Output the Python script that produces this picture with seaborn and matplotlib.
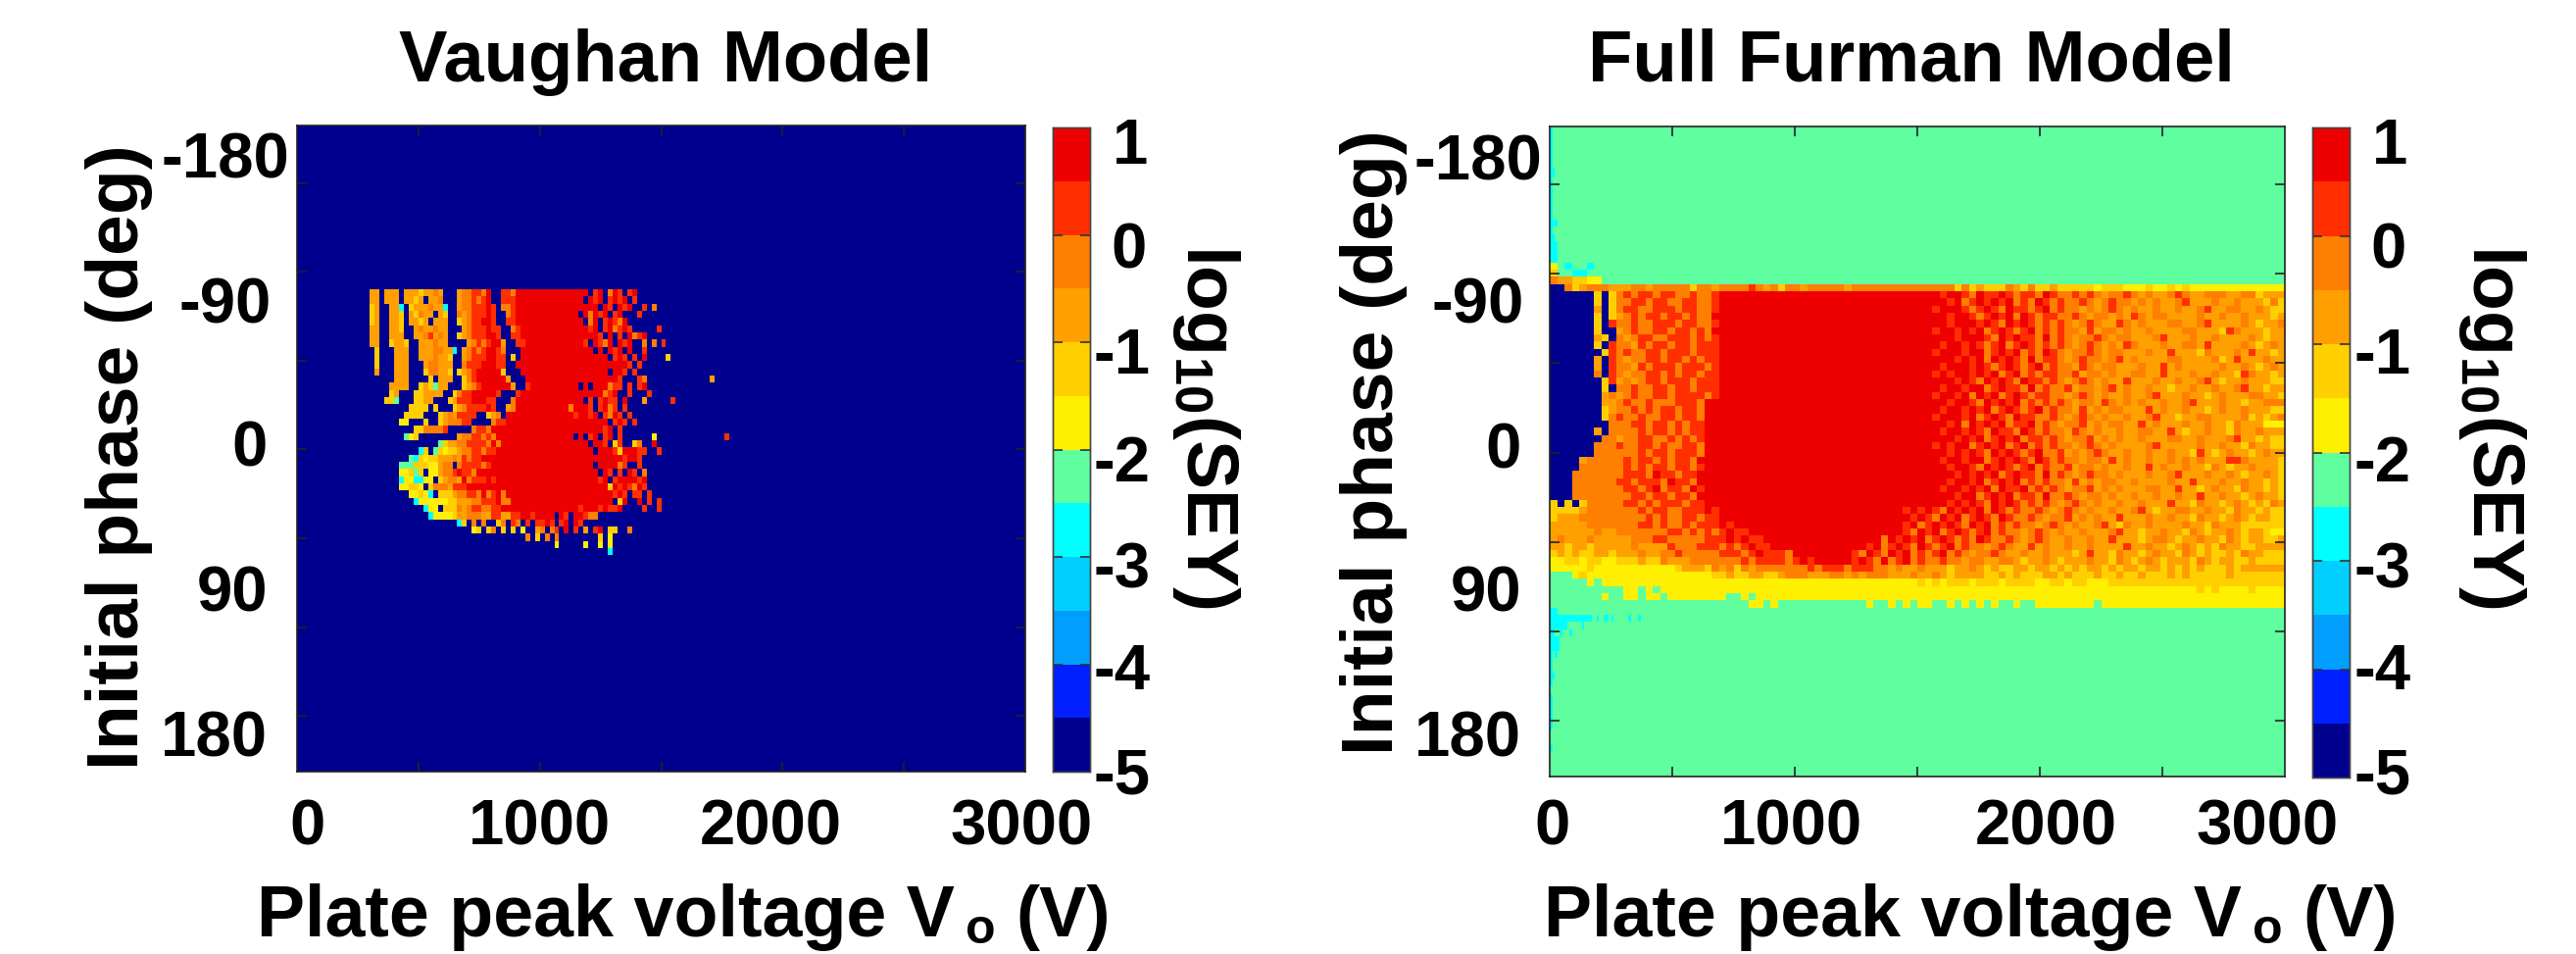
import numpy as np
import seaborn as sns
import matplotlib.pyplot as plt
from matplotlib.colors import ListedColormap

# colour bands of the scale, bottom to top, -5 to 1 in half decades
band_colors = ["#00008F", "#001FFF", "#009FFF", "#00CFFF", "#00FFFF", "#5FFF9F",
               "#FFEF00", "#FFCF00", "#FF9F00", "#FF7F00", "#FF2F00", "#EF0000"]

# letters used in the rows below, value is log10(SEY) at the middle of a band
levels = {".": -4.75, "c": -2.75, "g": -2.25, "y": -1.75, "l": -1.25,
          "o": -0.75, "n": -0.25, "r": 0.25, "R": 0.75}

# Vaughan model, rows from -90 deg down, one letter = 20 V, first letter at col 14
vaughan_rows = [
    ".oo.ooo.oooloono...onnrrnR..rrnRRRRRRRRRRRRRRR.rR.nRr.rR",
    ".oo.ooo.oolo.oon...onnrnrR..rrrRRRRRRRRRRRRRR.RrR.rRrR.r",
    ".lo..ooc.looonooc..onnrrrRr.nnrRRRRRRRRRRRRRRRRR.Rr.RrR..r.n",
    ".lo..ool.olnoo.ol..nonrrrRr..nrRRRRRRRRRRRRR.RnRrR.rR...r",
    ".lo..ool.oolo.ooo..lonrrRRr..rrRRRRRRRRRRRRRR.nR.rRrnR",
    ".oo..ool..onoonoo...onrrrRrr..nrRRRRRRRRRRRRRRrR.rRnrRr.....r",
    ".oo..ooo..oonrono..lonrrrRRr..rrRRRRRRRRRRRRRRRRr.R.r.RnrR",
    ".oo..lool..ooonoo....onrnrRRo..rrRRRRRRRRRRRRr.RrnR.RrR..n.n.r",
    "..l...ooo..ooonnooc.onrnrRRrn...RRRRRRRRRRRRRRR.R.RrR.R..r",
    "..l...ooo..ooonool..onrrrRRrr.l.RRRRRRRRRRRRRRRRRR.rRr.r.R....l",
    "..l...ooo...onnooo..nrrrRRRrr..RRRRRRRRRRRRRRRRRRRRRRRr.r",
    "..o...ooo...lnnool.lonrRRRRRl...RRRRRRRRRRRRRRRRRR.RRr.r",
    "......ooo....l.ooo..lnrRRRRRRo...RRRRRRRRRRRRRRRRRRRr...rn.............o",
    ".....oooo..lolgoo...lonrRRRRRRo..rRRRRRRRRRR.R.RRRnrr.r.rR",
    ".....lo...lloooo..lnrrRRRRRr...rRRRRRRRRRRRRRRRRRnrR..r...r",
    "....llg...lloo...lorrrRRRrr...nRRRRRRRRRRRRRR.r.rRrr.R...o.....r",
    ".........llll.l...lonrrrrRr..onRRRRRRRRRRRnRRRr.rRnr.r",
    "........llll...lonorrrr..lon.RRRRRRRRRRRRRRrRRrR.rnRr.r",
    ".......yy...l..lonnnrr....nrrRRRRRRRRRRRRRRRRRRRRR.rRr.r",
    "..........llnnnnr.....nrrnRRRRRRRRRRRRRRRRRRRRRRRrR.r",
    "........gyl........onnrrnrnRRRRRRRRRRRRRRRR.R.rR.rR.r......y..............r",
    "...............gloonnrrrrnRnRRRRRRRRRRRRRRRRRR.RRr.lr..ln..R",
    "...........cl.glyllonnrrnrrRRRRRRRRRRRRRRRRRRRR.RRRrlRRRrr..r",
    ".........gclyllooonornrrRRRRRRRRRRRRRRRRRRRRRRRRRRRRRrRRr",
    ".......ggglllyyonn.nrrrrnrRRRRRRRRRRRRRRRRRRRRR.RRRRnr..r",
    ".......yylgl.yyonnrRrrnRRRRRRRRRRRRRRRRRRRRRRRRR.Rr.r.Rr.n",
    ".......cyyccyy.lonnoRnrrrRrRRRRRRRRRRRRRRRRRRRRRrR.rRRRRrR",
    ".......yylly.lnnnorrrRRRRRRRRRRRRRRRRRRRRRRRRRRRRRlRrRrnRr",
    ".........yylyc.lllonnrrnRnrRnRRRRRRRRRRRRRRRRRRRRRRrRr.rr.r",
    "..........cyyyyyyllooonnrrrRnnRRRRRRRRRRRRRRRRRRRRR.lR..R.r.r",
    "............cyy.lllnonrrnnrrRRRRRRRRRRRRRRRRrRRRrRrrR....r..r",
    ".............cyyyyloonnnoorroorrRRrRRRR.Rr.RRrnn",
    "...................cl.n.n..ln.rn.r.rrRr.rR.Rr",
    "......................yl.ln.l.l.y..on.nr.R.r.o.rR.ll..n",
    ".................................n.l.n.n........l.y",
    ".......................................y.....y..y.y",
    "..................................................c",
]

# Full Furman model, one letter = 30 V. Rows 23 to 60 come in three parts:
# what is left of the solid red core, its length, and what is right of it
furman_left = [
    "......l.lnrnrrnrrnnrnnr", "......l.lnnrrnrrnnrrnnr", "......o.lnrrnnrrrnrrnnr",
    "......l.lonrnrrnrrnrnnR", "......l.rnnrnnrrrnrrnnr", "......l..onrnnrrnrrnrnR",
    "......ol.nonrrnnrrrnrnr", "......l.rnnornrrnrrnrrr", ".......lrnrnnrrnrrrnrrr",
    "......o.rnonnrrnrrnrnrr", "......o.rnnornrrrnrrrnr", "......n.rnonnrrnrnrrnrr",
    ".......lrononrrnrrrnrrr", ".......l.nnrnnrrnrrnrrr", ".......ononrnnrrnrrrrnr",
    ".......oonrnnrnnnrrrnR", ".......lonnrnrnrrnrrnR", ".......lnrnnrnnrrnrrnR",
    "........nnnrrnrrnrnrrR", "......o.nnnnrnrrnrnrrR", ".......nnonnrrnnrnrnrR",
    "......nnnrnnrrnrnnrrnR", "......nnnnnnrnrrnrrrnR", "....onnnnnrnrrnrnrrnR",
    "....nnnnnnrnrnrrnrrnr", "...nnnnnnnrrrnRrrnrrR", "...nnnnnnrrnrrrnRrrnR",
    "...nnnnnnnrrnrRnrrnRrR", "...nnnnnnnnrrnrrnrrnRR", "l.l.lnnnnnrrnrnrrrnrrR",
    "llllonnnnnnnrnrrnnrrrRr", "looonnnnnnnnnrnrnnrrnrr", "ooooonnnnnnnrrnrnnrnrrrRr",
    "oooooonoonnnnnnnrrnrnrnrRrr", "onooonooooonnnrrnnnnnrrrRrRrr",
    "ooloolooooonoooornnnrrrnrnrRrr", "lololloolooonoonnrnnnnnrrrnrRrrrn",
    "yyllyllyylllollnooonnnnnnnrnrrrrnrRr",
]
furman_core = [29, 29, 29, 29, 30, 29, 30, 29, 29, 30, 29, 29, 29, 29, 29,
               30, 30, 30, 30, 30, 30, 30, 30, 32, 32, 32, 32, 31, 31, 31,
               25, 25, 23, 20, 16, 13, 8, 5]
furman_right = [
    "RrRRrnRrrRrnrrnRrnnrnrnonnrnonoonrnoonnnoonnlo",
    "RRrRnrRrRrRnrnRrnrnnrnonrnnononoonrooonoonooolnlo",
    "rRRRrnrRrnRrrnrRnrnnononrnonoonoonoonroonnoonol",
    "RRrRRrnrRrRnRrnrrnnrnonnonornonnoooonoonoonoooloy",
    "RrRRRrRrnRrRrnrnrnonrnoornonooonnoonroooonoloon",
    "rRRrRrRnrRrnrRnrnrnnoronnonoonoooonnooolrnoooloo",
    "RRrRRRrnRrRrrnRnrnonnrnonnooonrooonoonoooonoloon",
    "RrRRrRrnrRnrRrnrnrnonrnonornooonoonnoroooonolonol",
    "rRRRrRRnrRrRnrnRrnonnrnonnooonoorooolnooonoroolo",
    "RRrRrRnRrRrnRnrrnonrnnonronoooonnoooonlorooonoo",
    "RrRRRrRrnrRrnrRnrnnornonnooonooronooooonoonolono",
    "rRrRRrRrRnrRnrnrrnnronnonoonnoorooonoonoolrnoolo",
    "RRRrRrnRrRrnRrrnrnonrnonoorooonoonoonroloonoool",
    "RrRRrRRnrRrrnRnrnnronnonronoonooloonoonoonrooloon",
    "rRRrRnRrRnrRrnrrnnonrnonoonoonrooonoolonooonnoolo",
    "RRrRRrnRrRrRnrnrnrnonnornononoonoonrooonooloon",
    "RrRRrRrRnrRrnrRnrnnorononnoooronoonoolonoonoooll",
    "rRRRrRnrRrnRrrnnrnonrnonoonoonrooloonnoooonlolon",
    "RRrRnRrRrRnrrRnrnonnrononnooronooonoonoolnoooy",
    "RrRRrRrnRrrnRrnrnnornonoonoonnooroloonoolnoonoo",
    "RRRrRrRnrRrRnrrnrnonnrononoonooonnoonooonroolol",
    "rRrRRnrRrRnrRnrnrnnonrnonoooonrooooonoonoolnool",
    "RRrRrRrnRrRrnrRnnrononrnoonoonoonoolrolonoolonoo",
    "rRRrRRnrRrRrnRrnrnnonnoronoonoonononooorrnooooln",
    "RrRRrnRrRrnrRnrnnronnonoonooronoonoolnoloonoool",
    "RRrRrRrRnrRrrnRnrnonrnnonooonoonrooonoonoloonoloo",
    "RrRRrRnrRrRnrnrnnorononnoonoooonoorooonoonoolol",
    "rRRrRrRnRrrRnrnrnonnrononooonnooroolonoolnoolol",
    "RRrRRnrRrRnrrnRnnrnonnonoonoonoonooroonoolonool",
    "RrRrRrnRrRrnrnrnonrnonoonoonoooroolnoolonololno",
    "rRrRrnRrRrRnRrnrnnrnonrnonoonoonroloonnoonoolnoolol",
    "RrRrnRrRnrRrnRrnnrnonnrononoorooonoonoolnoolonolooll",
    "rRnrRrRrnRrRnrnrnnonrnonoonrolnoonoooonoolnoool",
    "RrnRrRnrRrnrRnrnnonrnonoonooonrooloonoolnoloonolooly",
    "nRrRrRnrRrnrnRrnnrnonrnoonoonoorooolonnoloonoolnoloollol",
    "rRnrRrnRrnrRnrnnonrnooronoonoonooooroonoolonololnoolloo",
    "rnRrnRrRnrnrRnrnonnrnoonoonoooloroolnoolonoolnolollolnool",
    "rRrnRnrRnrnnrnnonnoonnoloonolooonoolnolonolooolnoloollolll",
]

# rows 19 to 22, above the blue block
furman_upper = [
    "ygcggcggg",
    "lggccg",
    "noollyyg",
    "..nlonnnooonnonnnnnlnnonnnnrnonlnnonnnnnonnnnnnnnnnnnnnlnlolllnolnllolllllylllyyylyylylyyyy",
]
# rows 61 to 66, the yellow skirt under the red region
furman_lower = [
    "yyyyylyyyyyyyyyyylooolnonlnonnnnnnnrnrrrnrrrnnonoonoooloonolollooloolololoololooloololololllolo",
    "gggylyyyyyyyyyyyyyyyyyllolloollonnnooonnononnnooonoonoloooollolollloololllollollolllololllllolll",
    "gggggygyyyyyyyyyyyyyyyyyyyyyyyyyyyyyyyyyyyyyyyyyyylylylllylllyllllyyllyllyyyllllllllllllllllllll",
    "ggggggggggyygygyyyyyyyyyyyyyyyyyyyyyyyyyyyyyyyyyyyyyyyyyyyyyyyyyyyyyyyyyyyyyyyyyyyyyyyyylylyyyyly",
    "gggggggyggyygyygyyyyyyyyggygyyyyyyyyyyyyyyyyyyyyyyyyyyyyyyyyyyyyyyyyyyyyyyyyyyyyyyyyyyyyyyyyyyyy",
    "gggggggggggggggggggggggggggyygyggggggggggggyggygygyyggygygygyggyggyyyyyyyygyyyyyyyyyyyyyyyyyyyyy",
]
# thin aqua cells down the left edge of the green parts, one letter = 10 V
furman_edge_top = ["c", "c", "c", "c", "c", "c", "cc", "c", "c", "c", "c", "c",
                   "c", "ccc", "c", "cc", "ccc", "ccc", "ccc"]
furman_edge_bottom = [
    "ccc", "cccccccccccccccccggcggccgcggggggcgggc", "cccccccggggggc",
    "ccggcgggc", "cccc", "cccc", "cgc", "c", "c", "cc", "c", "", "c", "c",
    "c", "c", "c", "", "", "c",
]

y_labels = ["-180", "-90", "0", "90", "180"]
x_labels = ["0", "1000", "2000", "3000"]
cbar_labels = ["1", "0", "-1", "-2", "-3", "-4", "-5"]
cbar_ticks = [-4, -3, -2, -1, 0]


def to_values(rows):
    return np.array([[levels[ch] for ch in row] for row in rows])


def vaughan_matrix():
    rows = ["." * 150] * 91
    for i, row in enumerate(vaughan_rows):
        rows[23 + i] = ("." * 14 + row).ljust(150, ".")[:150]
    return to_values(rows)


def furman_matrix():
    rows = ["g" * 100] * 91
    for i, row in enumerate(furman_upper):
        rows[19 + i] = row.ljust(100, row[-1])[:100]
    for i in range(len(furman_core)):
        row = furman_left[i] + "R" * furman_core[i] + furman_right[i]
        rows[23 + i] = row.ljust(100, row[-1])[:100]
    for i, row in enumerate(furman_lower):
        rows[61 + i] = row.ljust(100, row[-1])[:100]
    # every 30 V letter becomes three 10 V cells
    fine = [[ch for ch in row for _ in range(3)] for row in rows]
    for i, row in enumerate(furman_edge_top):
        fine[i][:len(row)] = list(row)
    for i, row in enumerate(furman_edge_bottom):
        fine[67 + i][:len(row)] = list(row)
    return to_values(fine)


W, H = 2628, 973
plt.rcParams["font.family"] = ["Liberation Sans", "DejaVu Sans"]
plt.rcParams["font.weight"] = "bold"
plt.rcParams["mathtext.fontset"] = "custom"
plt.rcParams["mathtext.bf"] = "Liberation Sans:bold"
plt.rcParams["mathtext.rm"] = "Liberation Sans:bold"

fig = plt.figure(figsize=(W / 100, H / 100), dpi=100)
cmap = ListedColormap(band_colors)


def box(x0, y0, x1, y1):
    return fig.add_axes([x0 / W, 1 - y1 / H, (x1 - x0) / W, (y1 - y0) / H])


def put(x, y, s, size=47, **kw):
    kw.setdefault("ha", "center")
    kw.setdefault("va", "center")
    fig.text(x / W, 1 - y / H, s, fontsize=size, fontweight="bold", **kw)


def panel(mat, frame, cframe, ylim, title, title_x, ylab_x, ylab_y, x_pos,
          yl_right, yl_y, dx, cb_dx, cblab_x):
    ax = box(*frame)
    cax = box(*cframe)
    sns.heatmap(mat, ax=ax, cbar_ax=cax, cmap=cmap, vmin=-5, vmax=1,
                xticklabels=False, yticklabels=False,
                cbar_kws={"ticks": cbar_ticks})
    ax.set_ylim(*ylim)
    for sp in ax.spines.values():
        sp.set_visible(True)
        sp.set_linewidth(1.2)
        sp.set_color("#222222")
    # ticks every 500 V, the printed numbers are placed apart from them
    n = mat.shape[1]
    ax.set_xticks([n * k / 6 for k in range(1, 6)])
    span = ylim[0] - ylim[1]
    ax.set_yticks([ylim[1] + span * (59 + 91 * k) / 662 for k in range(7)])
    ax.tick_params(direction="in", length=7, width=1.2, color="#222222",
                   top=True, right=True, bottom=True, left=True,
                   labelbottom=False, labelleft=False)
    cax.tick_params(direction="in", length=7, width=1.2, color="#333333",
                    left=True, right=True, labelleft=False, labelright=False)
    for sp in cax.spines.values():
        sp.set_visible(True)
        sp.set_linewidth(1)
        sp.set_color("#444444")

    put(title_x, 63, title, size=53.5)
    # digits sit a little above the middle of their text box, hence the +4
    for lab, y, r in zip(y_labels, yl_y, yl_right):
        put(r, y + 4, lab, ha="right")
    for lab, x in zip(x_labels, x_pos):
        put(x, 844, lab)
    # the subscript sits low in the original, so the x label is three pieces
    put(262 + dx, 955, "Plate peak voltage V", size=53, ha="left", va="baseline")
    put(1000 + dx, 962, "o", size=36, va="baseline")
    put(1036 + dx, 955, "(V)", size=52, ha="left", va="baseline")
    put(ylab_x, ylab_y, "Initial phase (deg)", size=54, rotation=90)
    put(cblab_x, 435, r"log$_{\mathbf{10}}$(SEY)", size=54, rotation=270)
    for lab, y, x in zip(cbar_labels, [146, 252, 360, 470, 578, 682, 788],
                         [1135, 1133, 1116, 1116, 1116, 1116, 1116]):
        put(x + cb_dx, y + 4, lab, ha="left")


panel(vaughan_matrix(), (303, 128, 1046, 787), (1074, 130, 1112, 787),
      (90.1, 0.2), "Vaughan Model", 679, 122, 466, [314, 550, 786, 1042],
      [295, 277, 273, 273, 273], [161, 308, 455, 603, 750], 0, 0, 1231)
panel(furman_matrix(), (1581, 129, 2331, 792), (2359, 130, 2397, 793),
      (90.5, 0.1), "Full Furman Model", 1950, 1402, 451, [1584, 1827, 2087, 2313],
      [1573, 1555, 1552, 1552, 1552], [162, 309, 456, 603, 751], 1313, 1285, 2543)

fig.savefig("out.png", dpi=100)
